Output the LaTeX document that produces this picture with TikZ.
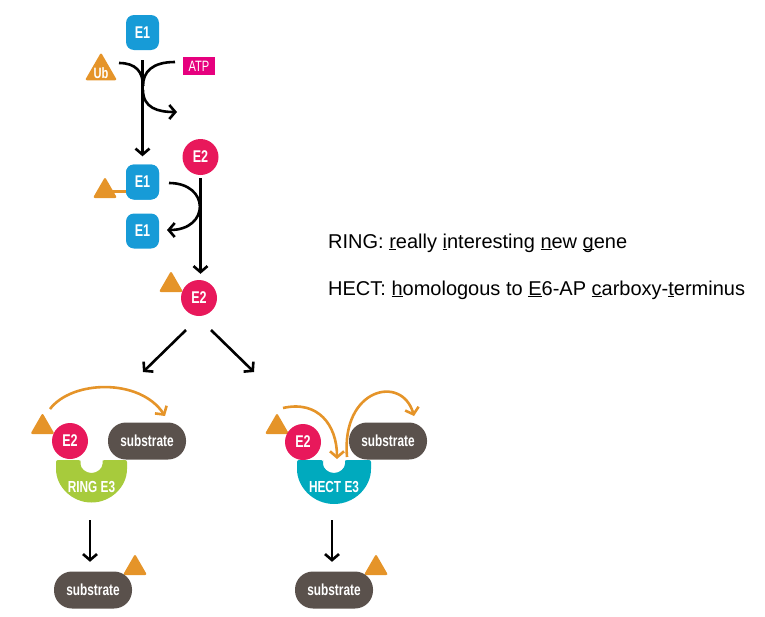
\documentclass[tikz,border=0pt]{standalone}
\usepackage{fontspec}
\setmainfont{Liberation Sans}
\newfontfamily\condf[FakeStretch=0.74]{Liberation Sans}
\usetikzlibrary{arrows.meta,shapes.geometric}
\definecolor{e1blue}{HTML}{179BD7}
\definecolor{e2red}{HTML}{E8185B}
\definecolor{ubor}{HTML}{E59429}
\definecolor{atpmag}{HTML}{E6007E}
\definecolor{subgray}{HTML}{5A514C}
\definecolor{ringgreen}{HTML}{A7CB3C}
\definecolor{hectteal}{HTML}{00AABE}
\newcommand{\myul}[1]{\setbox0\hbox{#1}\rlap{\rule[-2.4pt]{\wd0}{1.2pt}}#1}
\begin{document}
\begin{tikzpicture}[x=1pt,y=-1pt,
 lbl/.style={text=white,font=\condf\bfseries\fontsize{17}{17}\selectfont},
 e1box/.style={lbl,fill=e1blue,rounded corners=8pt,minimum width=33pt,minimum height=35pt,inner sep=0pt},
 e2circ/.style={lbl,circle,fill=e2red,minimum size=36pt,inner sep=0pt},
 ubtri/.style={regular polygon,regular polygon sides=3,fill=ubor,rounded corners=2pt,inner sep=0pt,minimum size=28pt},
 atpbox/.style={fill=atpmag,text=white,font=\condf\fontsize{15}{15}\selectfont,minimum width=32pt,minimum height=18pt,inner sep=0pt},
 subpill/.style={lbl,font=\condf\bfseries\fontsize{16}{16}\selectfont,fill=subgray,rounded corners=18pt,minimum width=78pt,minimum height=37pt,inner sep=0pt},
 e3lbl/.style={lbl,font=\condf\bfseries\fontsize{16}{16}\selectfont,inner sep=0pt},
 blkline/.style={line width=2.6pt},
 blk/.style={line width=2.6pt,-{Straight Barb[length=6pt,width=14pt]}},
 org/.style={draw=ubor,line width=2.6pt,-{Straight Barb[length=6pt,width=14pt]}},
 deftext/.style={anchor=base west,inner sep=0pt,font=\fontsize{20}{24}\selectfont}
]
\useasboundingbox (0,0) rectangle (765,616);

% ---- top: E1 activation
\node[e1box] (e1a) at (142.5,32.5) {E1};
\node[ubtri,minimum size=37pt] (ub) at (101,71) {};
\node[lbl,font=\condf\bfseries\fontsize{15}{15}\selectfont] (ubtxt) at (101,73) {Ub};
\node[atpbox] (atp) at (199,66) {ATP};
\coordinate (cl) at (119,63);
\coordinate (cr) at (175,62);
\coordinate (cj) at (143,86);
\coordinate (cs) at (143,90);
\coordinate (ce) at (177,112);
\draw[blkline] (cl) .. controls (136,63) and (143,72) .. (cj);
\draw[blkline] (cr) .. controls (152,62) and (143,72) .. (cj);
\draw[blk] (cs) .. controls (143,108) and (158,112) .. (ce);

% ---- E1~Ub, E2
\node[ubtri] (t1) at (105,191) {};
\node[e1box] (e1b) at (142.5,182) {E1};
\draw[ubor,line width=3pt] (t1.center) -- (t1.center -| e1b.west);
\node[e1box] (e1b) at (142.5,182) {E1};
\node[e1box] (e1c) at (142.5,231) {E1};
\draw[blk,shorten <=10pt,shorten >=8pt] (e1a.south) -- (e1b.north);
\node[e2circ] (e2a) at (200.5,157) {E2};
\coordinate (m1) at (169,183);
\coordinate (m2) at (167,230);
\draw[blk] (m1) .. controls (210,183) and (210,230) .. (m2);
\node[ubtri] (t2) at (171,285) {};
\node[e2circ] (e2b) at (199,298) {E2};
\draw[blk,shorten <=3pt,shorten >=6pt] (e2a.south) -- (e2a.south |- e2b.north);

% ---- split
\coordinate (d1s) at (186,330);
\coordinate (d1e) at (143,372);
\coordinate (d2s) at (211,330);
\coordinate (d2e) at (254,372);
\draw[blk] (d1s) -- (d1e);
\draw[blk] (d2s) -- (d2e);

% ---- RING E3
\fill[ringgreen,rounded corners=2pt] (56,460) -- (80.5,460) -- (80.5,462) arc (180:0:11) -- (102.5,460) -- (127,460) -- (127,467) arc (0:180:35.5) -- cycle;
\node[e3lbl] (ring) at (91.5,487) {RING E3};
\node[ubtri] (t3) at (42.5,427) {};
\node[e2circ] (e2c) at (70,441) {E2};
\node[subpill] (sub1) at (147,441) {substrate};
\coordinate (o1s) at (50,409);
\coordinate (o1e) at (165,416);
\draw[org] (o1s) .. controls (72,380) and (140,378) .. (o1e);

% ---- HECT E3
\fill[hectteal,rounded corners=2pt] (297,460) -- (323,460) -- (323,462) arc (180:0:11) -- (345,460) -- (371,460) -- (371,467) arc (0:180:37) -- cycle;
\node[e3lbl] (hect) at (334,487) {HECT E3};
\node[ubtri] (t4) at (277,427) {};
\node[e2circ] (e2d) at (303,442) {E2};
\node[subpill] (sub2) at (388,441) {substrate};
\coordinate (o2s) at (283,408);
\coordinate (o2e) at (337,459);
\draw[org] (o2s) .. controls (318,400) and (337,425) .. (o2e);
\coordinate (o3s) at (347,457);
\coordinate (o3e) at (414,416);
\draw[org] (o3s) .. controls (341,388) and (402,374) .. (o3e);

% ---- products
\node[ubtri] (t5) at (135,568) {};
\node[subpill] (sub3) at (93,590) {substrate};
\node[ubtri] (t6) at (376,568) {};
\node[subpill] (sub4) at (334,590) {substrate};
\coordinate (a1s) at (90,520);
\coordinate (a2s) at (332,520);
\draw[blk,shorten >=9.5pt] (a1s) -- (a1s |- sub3.north);
\draw[blk,shorten >=9.5pt] (a2s) -- (a2s |- sub4.north);

% ---- definitions
\node[deftext] (ringdef) at (328,248) {RING: \myul{r}eally \myul{i}nteresting \myul{n}ew \myul{g}ene};
\node[deftext] (hectdef) at (328,295) {HECT: \myul{h}omologous to \myul{E}6-AP \myul{c}arboxy-\myul{t}erminus};
\end{tikzpicture}
\end{document}
